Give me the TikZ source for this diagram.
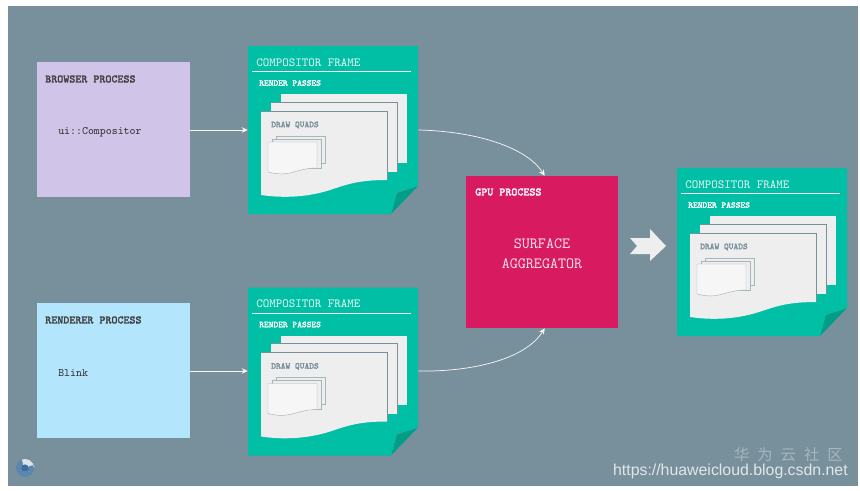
\documentclass[tikz,border=0pt]{standalone}
\usepackage{fontspec}
\usepackage{xcolor}
\usetikzlibrary{arrows.meta}
\newfontfamily\cjkfont{Noto Sans CJK SC}
\newfontfamily\urlfont{Liberation Sans}
\newfontfamily\headfont[FakeBold=2]{Latin Modern Mono}

\definecolor{slatebg}{HTML}{78909C}
\definecolor{framegreen}{HTML}{00BFA5}
\definecolor{folddark}{HTML}{009E88}
\definecolor{pagegrey}{HTML}{EEEEEE}
\definecolor{browserlilac}{HTML}{D1C4E9}
\definecolor{rendererblue}{HTML}{B3E5FC}
\definecolor{gpupink}{HTML}{D81B60}
\definecolor{logoblue}{HTML}{5B86B0}
\definecolor{logodark}{HTML}{3F6A9C}

\tikzset{
    procbox/.style={inner sep=0pt,minimum width=114.75pt,minimum height=101.25pt},
    boxhead/.style={anchor=west,inner sep=0pt,font=\headfont\fontsize{8.5}{10}\selectfont},
    boxtext/.style={anchor=west,inner sep=0pt,text=black!80,font=\ttfamily\fontsize{8.5}{10}\selectfont},
    framehead/.style={anchor=west,inner sep=0pt,text=white!85!framegreen,font=\ttfamily\fontsize{9.3}{11}\selectfont},
    smallhead/.style={anchor=west,inner sep=0pt,font=\headfont\fontsize{6.7}{8}\selectfont},
    quadsheet/.style={fill=pagegrey,draw=slatebg!60!pagegrey,line width=0.35pt},
    flowline/.style={draw=white!92!slatebg,line width=0.55pt,-{Stealth[length=4.5pt,width=4.2pt]}},
    pics/compframe/.style={code={
        \fill[folddark] (170,140) -- (149,147) -- (143,168) -- cycle;
        \fill[framegreen] (0,0) -- (170,0) -- (170,140)
            .. controls (160,144) and (150,145) .. (149,147)
            .. controls (147,152) and (146,158) .. (143,168) -- (0,168) -- cycle;
        \node[inner sep=0pt,minimum width=127.5pt,minimum height=126pt] (-body) at (85,84) {};
        \node[framehead] (-title) at (8,16.5) {COMPOSITOR FRAME};
        \draw[white,line width=0.5pt] (4,25.5) -- (163,25.5);
        \node[smallhead,text=white] (-passes) at (11,37) {RENDER PASSES};
        % render pass sheets
        \fill[pagegrey] (33,48) rectangle (159,117);
        \fill[pagegrey] (23,56) rectangle (149,126);
        \draw[slatebg,line width=0.4pt] (23,56) -- (149,56) -- (149,126);
        \fill[pagegrey] (13,65) -- (139,65) -- (139,134)
            .. controls (112,134) and (100,138) .. (85,143)
            .. controls (65,150) and (40,153) .. (13,149) -- cycle;
        \draw[slatebg,line width=0.4pt] (13,65) -- (139,65) -- (139,134);
        \node[smallhead,text=slatebg] (-quads) at (23,79) {DRAW QUADS};
        % draw quad sheets
        \draw[quadsheet] (28,90) rectangle (77,117);
        \draw[quadsheet] (24,93) rectangle (73,122);
        \draw[quadsheet,fill=white!45!pagegrey] (20,96) -- (69,96) -- (69,122)
            .. controls (58,122) and (50,125) .. (42,127)
            .. controls (35,128.5) and (27,128) .. (20,126) -- cycle;
    }}
}

\begin{document}
\begin{tikzpicture}[x=0.75pt,y=-0.75pt]

    %------------------------------------------------
    % Background
    %------------------------------------------------

    \useasboundingbox (0,0) rectangle (860,490);
    \fill[white] (0,0) rectangle (860,490);
    \fill[slatebg] (8,6) rectangle (858,486);

    %------------------------------------------------
    % Process boxes
    %------------------------------------------------

    \node[procbox,fill=browserlilac] (browser) at (113.5,129.5) {};
    \node[boxhead,text=black!75] (browserhead) at (45,79) {BROWSER PROCESS};
    \node[boxtext] (uicomp) at (58,132.5) {ui::Compositor};

    \node[procbox,fill=rendererblue] (renderer) at (113.5,370.5) {};
    \node[boxhead,text=black!75] (rendererhead) at (45,320) {RENDERER PROCESS};
    \node[boxtext] (blink) at (58,373.5) {Blink};

    \node[inner sep=0pt,minimum width=114pt,minimum height=114pt,fill=gpupink] (gpu) at (542,252) {};
    \node[boxhead,text=white] (gpuhead) at (475,192) {GPU PROCESS};
    \node[align=center,text=white!90!gpupink,font=\ttfamily\fontsize{11.7}{15}\selectfont] (surface) at (542,253.5)
        {SURFACE\\AGGREGATOR};

    %------------------------------------------------
    % Compositor frames
    %------------------------------------------------

    \pic (framea) at (248,46) {compframe};
    \pic (frameb) at (248,287.5) {compframe};
    \pic (framec) at (677,168) {compframe};

    %------------------------------------------------
    % Connectors
    %------------------------------------------------

    \draw[flowline] (browser.east |- 0,130) -- (framea-body.west |- 0,130);
    \draw[flowline] (renderer.east |- 0,371) -- (frameb-body.west |- 0,371);

    \draw[flowline] (framea-body.east |- 0,130)
        .. controls (470,131) and (525,145) .. ([xshift=2pt]gpu.north);
    \draw[flowline] (frameb-body.east |- 0,371)
        .. controls (470,372) and (525,360) .. ([xshift=2pt]gpu.south);

    %------------------------------------------------
    % Big arrow
    %------------------------------------------------

    \fill[pagegrey] (630,238) -- (650,238) -- (650,229) -- (666,246)
        -- (650,261) -- (650,254) -- (630,254) -- (637,246) -- cycle;

    %------------------------------------------------
    % Chrome logo
    %------------------------------------------------

    \fill[logoblue] (25,468) circle (9);
    \fill[white!75!slatebg] (34,465) -- (34,468) arc (0:-110:9) -- (25,472) -- (29,466) -- cycle;
    \fill[logodark] (25,468) circle (3.6);

    %------------------------------------------------
    % Watermark
    %------------------------------------------------

    \node[anchor=east,inner sep=0pt,text=white!35!slatebg,font=\cjkfont\fontsize{11.5}{13}\selectfont] (markcn) at (843,455)
        {华\hspace{6pt}为\hspace{6pt}云\hspace{6pt}社\hspace{6pt}区};
    \node[anchor=east,inner sep=0pt,text=white!78!slatebg,font=\urlfont\fontsize{11.9}{14}\selectfont] (markurl) at (848,471)
        {https://huaweicloud.blog.csdn.net};

\end{tikzpicture}
\end{document}
